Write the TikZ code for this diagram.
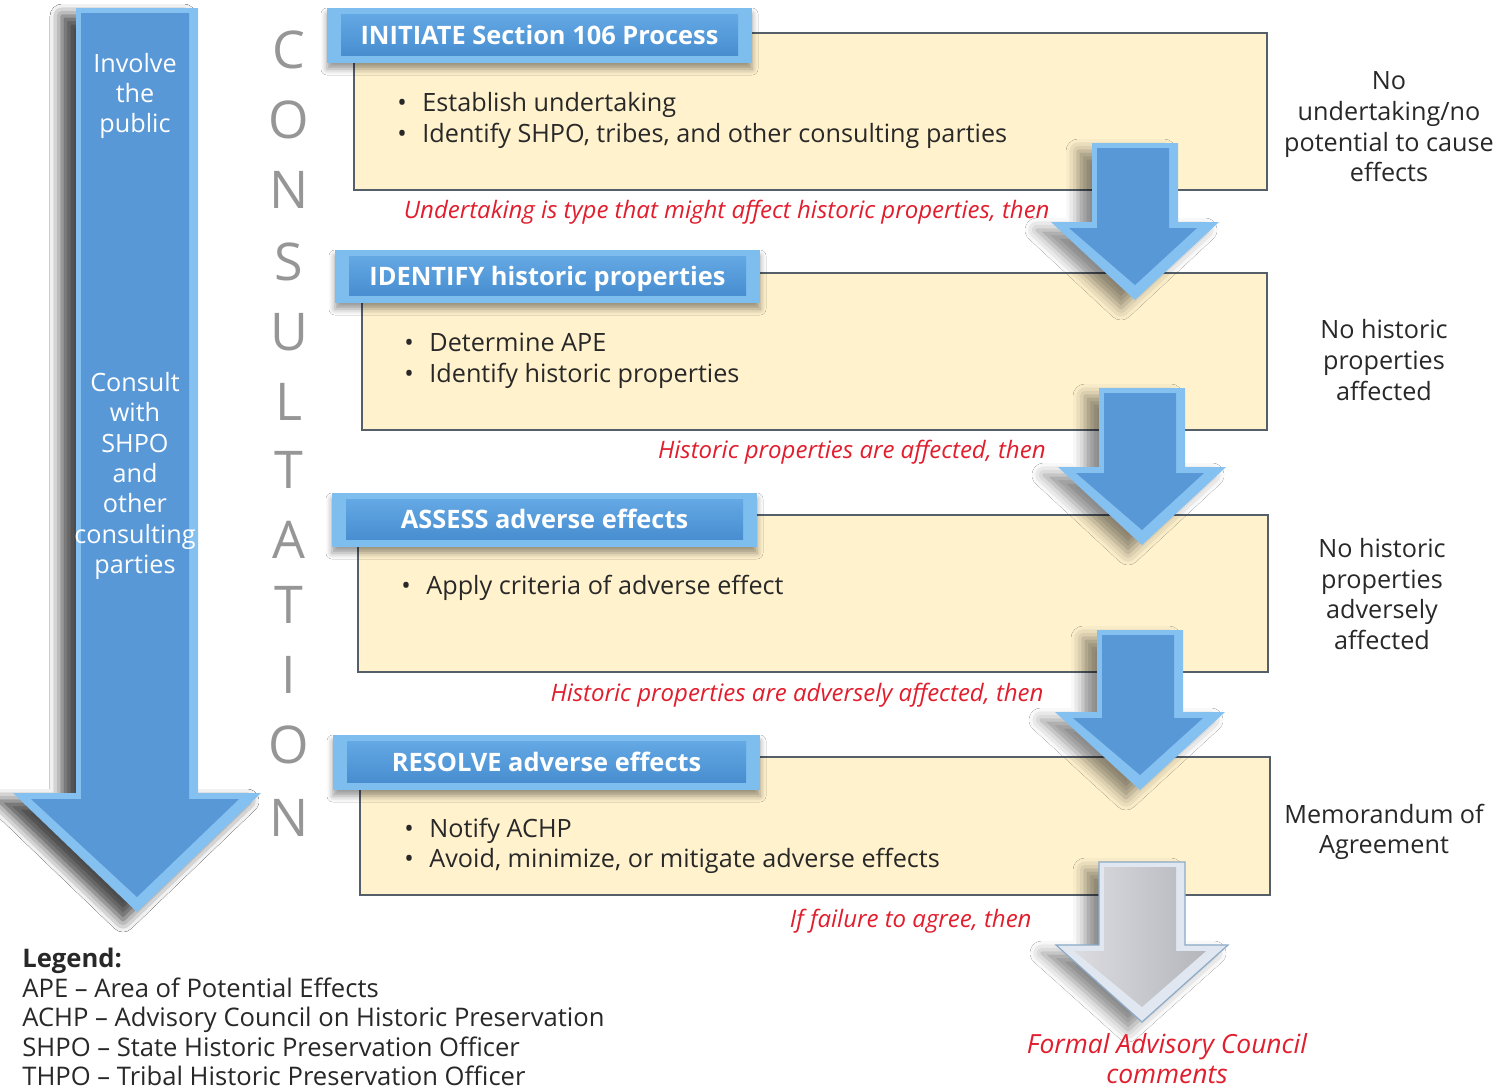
\documentclass[tikz,border=0pt]{standalone}
\usepackage{fontspec}
\setmainfont{Open Sans}
\usetikzlibrary{shadows.blur,fit}
\definecolor{boxfill}{RGB}{255,242,205}
\definecolor{boxline}{RGB}{85,95,105}
\definecolor{blueout}{RGB}{132,192,240}
\definecolor{bluein}{RGB}{88,152,215}
\definecolor{tabout}{RGB}{125,190,238}
\definecolor{tabtop}{RGB}{100,168,228}
\definecolor{tabbot}{RGB}{72,142,208}
\definecolor{redtxt}{RGB}{225,30,45}
\definecolor{darktxt}{RGB}{40,40,40}
\definecolor{graytxt}{RGB}{150,150,150}
\definecolor{greyout}{RGB}{224,231,240}
\definecolor{greyinL}{RGB}{220,220,224}
\definecolor{greyinR}{RGB}{180,182,188}
\definecolor{greyedge}{RGB}{140,170,200}
\newcommand{\blkarrow}[8]{%
  \path[#7, blur shadow={shadow xshift=-7pt, shadow yshift=-4pt, shadow blur radius=6pt, shadow opacity=45}]
    ({#1-#3},#2) -- ({#1+#3},#2) -- ({#1+#3},#4) -- ({#1+#5},#4) -- (#1,#6) -- ({#1-#5},#4) -- ({#1-#3},#4) -- cycle;
  \path[#8]
    ({#1-#3+5},{#2+5}) -- ({#1+#3-9},{#2+5}) -- ({#1+#3-9},{#4+6}) -- ({#1+#5-22},{#4+6}) -- (#1,{#6-15}) -- ({#1-#5+18},{#4+6}) -- ({#1-#3+5},{#4+6}) -- cycle;
}
\newcommand{\tabbox}[6]{%
  \node[fit={(#2,#3)(#4,#5)}, inner sep=0pt, fill=tabout,
        blur shadow={shadow xshift=0pt, shadow yshift=-3pt, shadow blur radius=3pt}] (#1) {};
  \path[top color=tabtop, bottom color=tabbot] ({#2+14},{#3+6}) rectangle ({#4-14},{#5-8});
  \node[tabtitle] (#1t) at (#1.center) {#6};
}
\tikzset{
  oneline/.style={text height=0.74em, text depth=0.2em, yshift=-1.6pt},
  ybox/.style={draw=boxline, fill=boxfill, line width=0.8pt, inner sep=0pt},
  tabtitle/.style={oneline, text=white, font=\bfseries\fontsize{12.7}{14}\selectfont, inner sep=0pt},
  bul/.style={oneline, anchor=west, text=darktxt, font=\fontsize{12.6}{14}\selectfont, inner sep=0pt},
  redlbl/.style={oneline, anchor=east, text=redtxt, font=\itshape\fontsize{12}{14}\selectfont, inner sep=0pt},
  sidetxt/.style={align=center, text=darktxt, font=\fontsize{12.6}{15.3}\selectfont, inner sep=0pt},
  arrtxt/.style={align=center, text=white, font=\fontsize{12.6}{15.2}\selectfont, inner sep=0pt},
  cons/.style={text=graytxt, font=\fontsize{26}{28}\selectfont, inner sep=0pt},
  leg/.style={oneline, anchor=west, text=darktxt, font=\fontsize{12.8}{14}\selectfont, inner sep=0pt}
}
\begin{document}
\begin{tikzpicture}[x=0.5pt, y=-0.5pt]
\useasboundingbox (0,0) rectangle (1500,1089);
\fill[white] (0,0) rectangle (1500,1089);

% big left arrow
\blkarrow{137}{8}{61}{793}{124}{912}{fill=blueout, blur shadow={shadow xshift=-12pt, shadow yshift=-6pt, shadow blur radius=9pt, shadow opacity=55}}{fill=bluein}
\node[arrtxt] (inv) at (135,96) {Involve\\the\\public};
\node[arrtxt] (cons1) at (135,476) {Consult\\with\\SHPO\\and\\other\\consulting\\parties};

% CONSULTATION
\node[cons] (c1) at (289,50) {C};
\node[cons] (c2) at (289,120) {O};
\node[cons] (c3) at (289,190) {N};
\node[cons] (c4) at (289,262) {S};
\node[cons] (c5) at (289,332) {U};
\node[cons] (c6) at (289,402) {L};
\node[cons] (c7) at (289,470) {T};
\node[cons] (c8) at (289,540) {A};
\node[cons] (c9) at (289,605) {T};
\node[cons] (c10) at (289,675) {I};
\node[cons] (c11) at (289,745) {O};
\node[cons] (c12) at (289,818) {N};

% boxes
\node[ybox, fit={(354,33)(1267,190)}] (b1) {};
\node[ybox, fit={(362,273)(1267,430)}] (b2) {};
\node[ybox, fit={(358,515)(1268,672)}] (b3) {};
\node[ybox, fit={(360,757)(1270,895)}] (b4) {};

% tabs
\tabbox{t1}{327}{8}{752}{63}{INITIATE Section 106 Process}
\tabbox{t2}{335}{250}{760}{303}{IDENTIFY historic properties}
\tabbox{t3}{332}{493}{757}{547}{ASSESS adverse effects}
\tabbox{t4}{333}{735}{760}{790}{RESOLVE adverse effects}

% bullets
\node[bul] (p11) at (397,103) {\makebox[12.5pt][l]{•}Establish undertaking};
\node[bul] (p12) at (397,134) {\makebox[12.5pt][l]{•}Identify SHPO, tribes, and other consulting parties};
\node[bul] (p21) at (404,343) {\makebox[12.5pt][l]{•}Determine APE};
\node[bul] (p22) at (404,374) {\makebox[12.5pt][l]{•}Identify historic properties};
\node[bul] (p31) at (401,586) {\makebox[12.5pt][l]{•}Apply criteria of adverse effect};
\node[bul] (p41) at (404,829) {\makebox[12.5pt][l]{•}Notify ACHP};
\node[bul] (p42) at (404,859) {\makebox[12.5pt][l]{•}Avoid, minimize, or mitigate adverse effects};

% red conditions
\node[redlbl] (r1) at (1050,210) {Undertaking is type that might affect historic properties, then};
\node[redlbl] (r2) at (1046,450) {Historic properties are affected, then};
\node[redlbl] (r3) at (1044,693) {Historic properties are adversely affected, then};
\node[redlbl] (r4) at (1032,919) {If failure to agree, then};

% block arrows
\blkarrow{1135}{143}{43}{222}{84}{300}{fill=blueout}{fill=bluein}
\blkarrow{1142}{388}{43}{467}{84}{545}{fill=blueout}{fill=bluein}
\blkarrow{1140}{630}{43}{712}{85}{790}{fill=blueout}{fill=bluein}
\blkarrow{1142}{862}{43}{945}{86}{1022}{fill=greyout, draw=greyedge, line width=0.6pt}{left color=greyinL, right color=greyinR}

% right side outcomes
\node[sidetxt] (o1) at (1389,127) {No\\undertaking/no\\potential to cause\\effects};
\node[sidetxt] (o2) at (1384,360) {No historic\\properties\\affected};
\node[sidetxt] (o3) at (1382,594) {No historic\\properties\\adversely\\affected};
\node[sidetxt] (o4) at (1384,832) {Memorandum of\\Agreement};
\node[sidetxt, text=redtxt, font=\itshape\fontsize{13.2}{15}\selectfont] (fac) at (1167,1059) {Formal Advisory Council\\comments};

% legend
\node[leg, font=\bfseries\fontsize{12.8}{14}\selectfont] (lg0) at (22,959) {Legend:};
\node[leg] (lg1) at (22,989) {APE -- Area of Potential Effects};
\node[leg] (lg2) at (22,1018) {ACHP -- Advisory Council on Historic Preservation};
\node[leg] (lg3) at (22,1048) {SHPO -- State Historic Preservation Officer};
\node[leg] (lg4) at (22,1077) {THPO -- Tribal Historic Preservation Officer};
\end{tikzpicture}
\end{document}
